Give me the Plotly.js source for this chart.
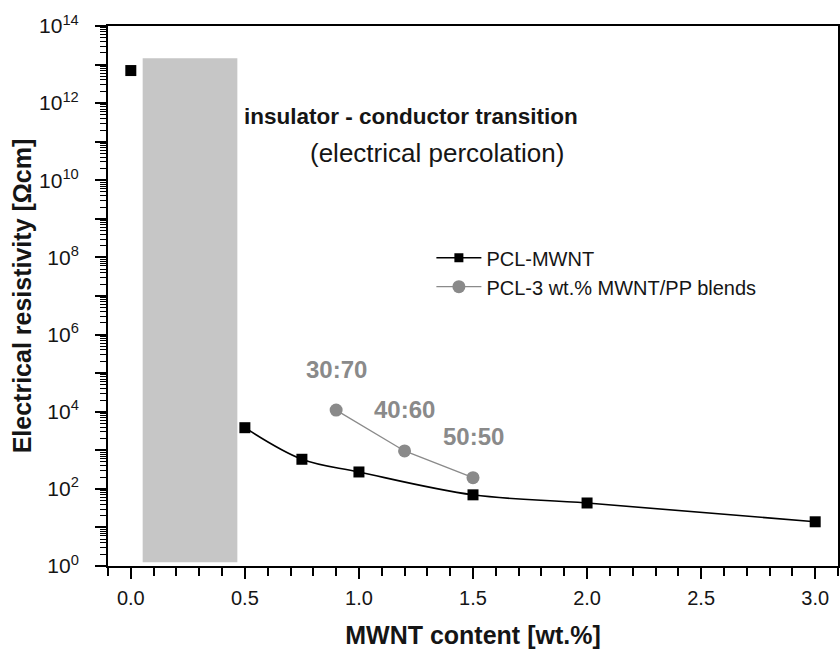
<!DOCTYPE html>
<html><head><meta charset="utf-8">
<script src="https://cdn.plot.ly/plotly-3.0.1.min.js"></script>
<style>html,body{margin:0;padding:0;background:#fff}#chart{width:840px;height:650px}</style>
</head><body><div id="chart"></div>
<script>
// PCL-MWNT series
const pclX = [0, 0.5, 0.75, 1.0, 1.5, 2.0, 3.0];
const pclY = [7e12, 3.85e3, 585, 274, 70, 43, 14];
// PCL-3 wt.% MWNT/PP blends
const blendX = [0.9, 1.2, 1.5];
const blendY = [1.1e4, 960, 195];
const blendLabels = ['30:70', '40:60', '50:50'];
// percolation band
const bandX = [0.052, 0.467];
const bandY = [1.25, 1.45e13];
// tick labels
const yTickVals = [1e0,1e1,1e2,1e3,1e4,1e5,1e6,1e7,1e8,1e9,1e10,1e11,1e12,1e13,1e14];
const yTickText = yTickVals.map((v,i)=> i%2===0 ? '10<sup>'+i+'</sup>' : '');
const xTickVals = [0,0.5,1.0,1.5,2.0,2.5,3.0];
const xTickText = ['0.0','0.5','1.0','1.5','2.0','2.5','3.0'];

const font = 'Liberation Sans, Arial, sans-serif';
const ink = '#151515';
const grey = '#8a8a8a';

const traces = [
  {x:[bandX[0],bandX[1],bandX[1],bandX[0],bandX[0]], y:[bandY[0],bandY[0],bandY[1],bandY[1],bandY[0]],
   type:'scatter', mode:'lines', fill:'toself', fillcolor:'#c6c6c6', line:{width:0,color:'#c6c6c6'},
   showlegend:false, hoverinfo:'skip'},
  {x:pclX.slice(1), y:pclY.slice(1), type:'scatter', mode:'lines', line:{color:'#000',width:1.6,shape:'spline',smoothing:1.0},
   showlegend:false, hoverinfo:'skip'},
  {x:pclX, y:pclY, type:'scatter', mode:'markers', name:'PCL-MWNT',
   marker:{symbol:'square',size:11,color:'#000'}, showlegend:false},
  {x:[null], y:[null], type:'scatter', mode:'lines+markers', name:'PCL-MWNT', legendgroup:'a',
   line:{color:'#000',width:1.5}, marker:{symbol:'square',size:9,color:'#000'}},
  {x:blendX, y:blendY, type:'scatter', mode:'lines+markers', name:'PCL-3 wt.% MWNT/PP blends', legendgroup:'b',
   line:{color:grey,width:1.3}, marker:{symbol:'circle',size:13,color:grey}}
];

const annotations = [
  {text:'<b>insulator - conductor transition</b>', x:0.415, y:0.859, xref:'paper', yref:'paper', showarrow:false,
   font:{family:font,size:22.5,color:ink}},
  {text:'(electrical percolation)', x:0.4505, y:0.796, xref:'paper', yref:'paper', showarrow:false,
   font:{family:font,size:26,color:ink}}
];
blendLabels.forEach((t,i)=>{
  annotations.push({text:'<b>'+t+'</b>', x:blendX[i], y:Math.log10(blendY[i]),
    xref:'x', yref:'y', showarrow:false, yshift:41, font:{family:font,size:24,color:grey}});
});

const layout = {
  width:840, height:650,
  margin:{l:108, r:2, t:26, b:84},
  paper_bgcolor:'#fff', plot_bgcolor:'#fff',
  font:{family:font, color:ink},
  showlegend:true,
  legend:{x:0.443, y:0.607, xanchor:'left', yanchor:'top', bgcolor:'rgba(0,0,0,0)', traceorder:'grouped',
          font:{family:font,size:20,color:ink}, itemwidth:45, tracegroupgap:0},
  xaxis:{range:[-0.1,3.1], tickvals:xTickVals, ticktext:xTickText, ticks:'outside', ticklen:11, tickwidth:2,
         tickcolor:'#000', showline:true, linecolor:'#000', linewidth:2, mirror:true, showgrid:false, zeroline:false,
         tickfont:{family:font,size:20,color:ink}, ticklabelstandoff:2,
         minor:{dtick:0.1, tick0:0, ticks:'outside', ticklen:8, tickwidth:2, tickcolor:'#000', showgrid:false},
         title:{text:'<b>MWNT content [wt.%]</b>', font:{family:font,size:25,color:ink}, standoff:18}},
  yaxis:{type:'log', range:[0,14], tickvals:yTickVals, ticktext:yTickText, ticks:'outside', ticklen:11, tickwidth:2,
         tickcolor:'#000', showline:true, linecolor:'#000', linewidth:2, mirror:true, showgrid:false, zeroline:false,
         tickfont:{family:font,size:21,color:ink}, ticklabelstandoff:12,
         minor:{dtick:'D1', ticks:'outside', ticklen:6, tickwidth:1, tickcolor:'#000', showgrid:false},
         title:{text:'<b>Electrical resistivity [Ωcm]</b>', font:{family:font,size:25,color:ink}, standoff:0}},
  annotations:annotations
};

Plotly.newPlot('chart', traces, layout, {displayModeBar:false, staticPlot:true});
</script>
</body></html>
